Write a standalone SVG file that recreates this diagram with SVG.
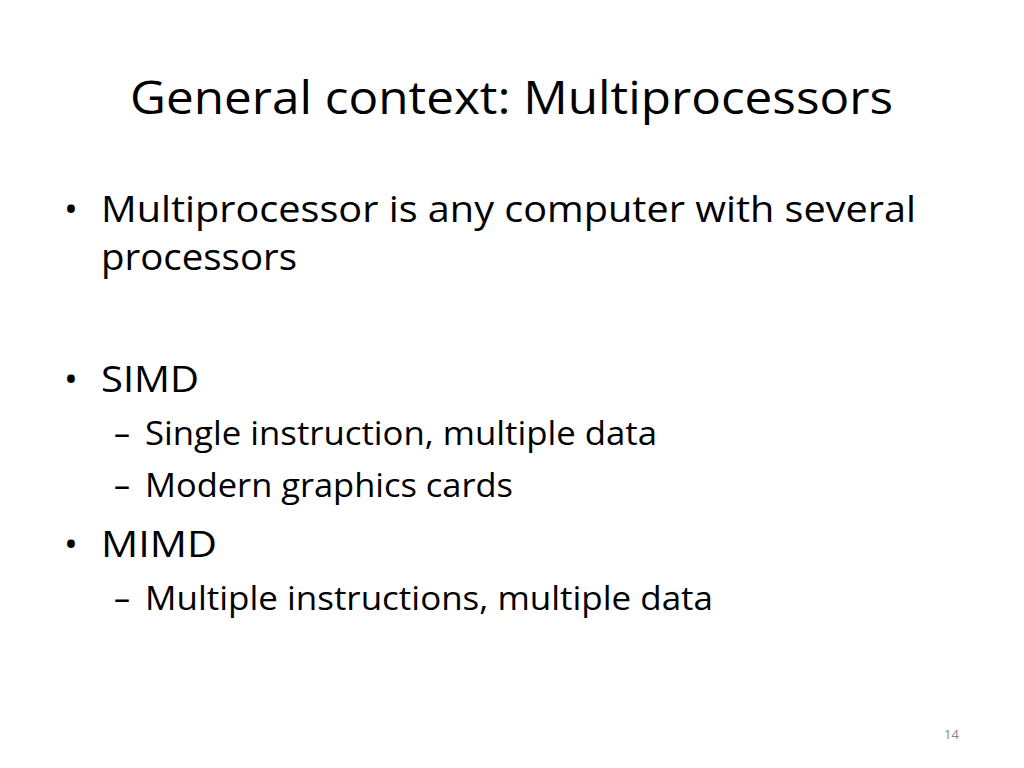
<svg xmlns="http://www.w3.org/2000/svg" width="1024" height="768" viewBox="0 0 1024 768">
<style>
text{font-family:"Open Sans","Liberation Sans",sans-serif;fill:#000}
.t{font-size:46px}
.b{font-size:37px}
.s{font-size:32px}
</style>
<rect width="1024" height="768" fill="#fff"/>
<text class="t" x="130" y="114" textLength="763" lengthAdjust="spacingAndGlyphs">General context: Multiprocessors</text>
<text class="b" x="64" y="222">•</text>
<text class="b" x="101" y="222" textLength="815" lengthAdjust="spacingAndGlyphs">Multiprocessor is any computer with several</text>
<text class="b" x="101" y="270" textLength="196" lengthAdjust="spacingAndGlyphs">processors</text>
<text class="b" x="64" y="392">•</text>
<text class="b" x="101" y="392" textLength="98" lengthAdjust="spacingAndGlyphs">SIMD</text>
<text class="s" x="114" y="445">–</text>
<text class="s" x="145" y="445" textLength="512" lengthAdjust="spacingAndGlyphs">Single instruction, multiple data</text>
<text class="s" x="114" y="497">–</text>
<text class="s" x="145" y="497" textLength="368" lengthAdjust="spacingAndGlyphs">Modern graphics cards</text>
<text class="b" x="64" y="557">•</text>
<text class="b" x="101" y="557" textLength="116" lengthAdjust="spacingAndGlyphs">MIMD</text>
<text class="s" x="114" y="610">–</text>
<text class="s" x="145" y="610" textLength="568" lengthAdjust="spacingAndGlyphs">Multiple instructions, multiple data</text>
<text x="944" y="739" font-size="13" fill="#888" style="fill:#888">14</text>
</svg>
